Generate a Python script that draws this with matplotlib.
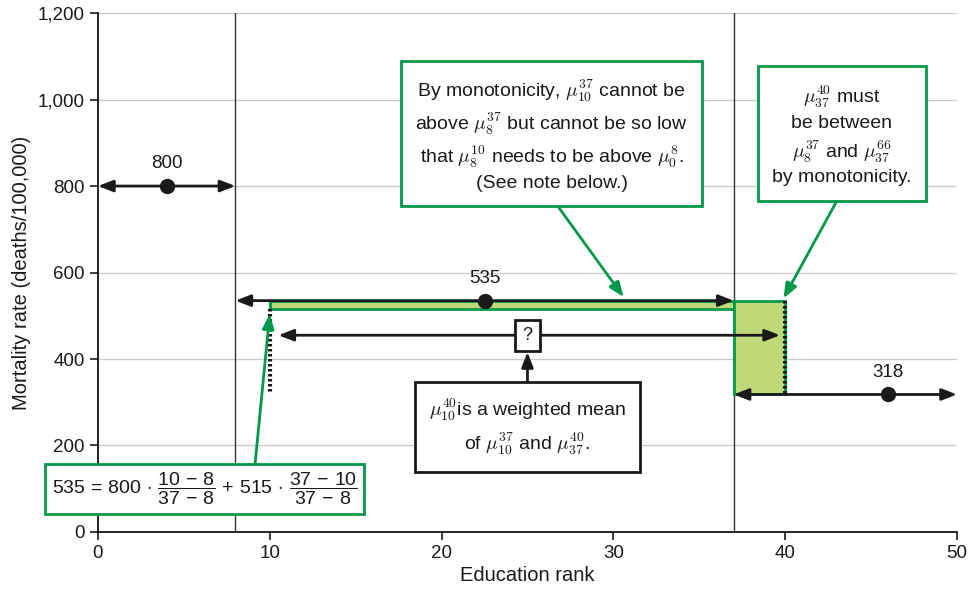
import matplotlib.pyplot as plt
from matplotlib.patches import Rectangle
from matplotlib.ticker import FuncFormatter

# Gruppen der Bildungsraenge und Sterberaten
grp_lo = [0, 8, 37]
grp_hi = [8, 37, 55]
rates = [800, 535, 318]
dot_x = [4, 22.5, 46]

# Schranken fuer die Teilintervalle
bound_lo_10_37 = 515
bound_lo_37_40 = 318
q_level = 455

green = '#00984a'
light = '#bfd978'
dark = '#1a1a1a'

plt.rcParams['font.family'] = ['Liberation Sans', 'DejaVu Sans']
plt.rcParams['mathtext.fontset'] = 'cm'
plt.rcParams['mathtext.rm'] = 'Liberation Sans'
plt.rcParams['mathtext.it'] = 'Liberation Sans:italic'
plt.rcParams['mathtext.sf'] = 'Liberation Sans'

fig = plt.figure(figsize=(9.75, 5.89), dpi=100)
ax = fig.add_axes([0.1005, 0.0968, 0.881, 0.881])
ax.set_xlim(0, 50)
ax.set_ylim(0, 1200)

# Gitter und Trennlinien
for y in range(200, 1201, 200):
    ax.axhline(y, color='#cccccc', lw=1, zorder=0)
for x in grp_lo[1:]:
    ax.axvline(x, color='#333333', lw=1, zorder=1)

for s in ['top', 'right']:
    ax.spines[s].set_visible(False)
ax.spines['left'].set_linewidth(1.2)
ax.spines['bottom'].set_linewidth(1.2)
ax.set_xticks(range(0, 51, 10))
ax.set_yticks(range(0, 1201, 200))
ax.yaxis.set_major_formatter(FuncFormatter(lambda v, p: f'{int(v):,}'))
ax.tick_params(direction='out', length=6, width=1.2, labelsize=13.5, colors=dark)

# Gruene Flaechen (Schranken)
ax.add_patch(Rectangle((10, bound_lo_10_37), grp_hi[1] - 10, rates[1] - bound_lo_10_37,
                       facecolor=light, edgecolor=green, lw=2, zorder=2))
ax.add_patch(Rectangle((37, bound_lo_37_40), 40 - 37, rates[1] - bound_lo_37_40,
                       facecolor=light, edgecolor=green, lw=2, zorder=2))

# Gepunktete Linien
ax.plot([10, 10], [bound_lo_10_37, bound_lo_37_40], color=dark, lw=3, ls=(0, (0.6, 0.6)), zorder=3)
ax.plot([40, 40], [rates[1], bound_lo_37_40], color=dark, lw=3, ls=(0, (0.6, 0.6)), zorder=3)

# Doppelpfeile mit Punkten
astyle = '<|-|>,head_length=0.9,head_width=0.35'
for lo, hi, r, dx in zip(grp_lo, grp_hi, rates, dot_x):
    ax.annotate('', xy=(min(hi, 50), r), xytext=(lo, r),
                arrowprops=dict(arrowstyle=astyle, color=dark, lw=2,
                                shrinkA=0, shrinkB=0), zorder=4)
    ax.plot(dx, r, 'o', color=dark, ms=10, zorder=5)
    ax.annotate(str(r), (dx, r), xytext=(0, 10), textcoords='offset points',
                ha='center', va='bottom', fontsize=13.5, color=dark)

# Fragezeichen-Pfeil
ax.annotate('', xy=(39.7, q_level), xytext=(10.5, q_level),
            arrowprops=dict(arrowstyle=astyle, color=dark, lw=2, shrinkA=0, shrinkB=0), zorder=4)
ax.text(25, q_level, '?', ha='center', va='center', fontsize=13, color=dark, zorder=6,
        bbox=dict(boxstyle='square,pad=0.4', fc='white', ec=dark, lw=2))

ax.text(25, 243, '$\\mu_{10}^{40}$is a weighted mean\nof $\\mu_{10}^{37}$ and $\\mu_{37}^{40}$.',
        ha='center', va='center', fontsize=14, color=dark, linespacing=1.4, zorder=6,
        bbox=dict(boxstyle='square,pad=0.75', fc='white', ec=dark, lw=2))
ax.annotate('', xy=(25, 416), xytext=(25, 335),
            arrowprops=dict(arrowstyle='-|>,head_length=0.9,head_width=0.35', color=dark, lw=2,
                            shrinkA=0, shrinkB=0), zorder=4)

# Gruene Erklaerungskaesten
txt_top = ('By monotonicity, $\\mu_{10}^{37}$ cannot be\n'
           'above $\\mu_{8}^{37}$ but cannot be so low\n'
           'that $\\mu_{8}^{10}$ needs to be above $\\mu_{0}^{8}$.\n'
           '(See note below.)')
ax.text(26.4, 918, txt_top, ha='center', va='center', fontsize=14, color=dark,
        linespacing=1.35, zorder=6,
        bbox=dict(boxstyle='square,pad=0.75', fc='white', ec=green, lw=2))
ax.annotate('', xy=(30.6, 543), xytext=(26.5, 768),
            arrowprops=dict(arrowstyle='-|>,head_length=0.9,head_width=0.35', color=green, lw=2,
                            shrinkA=0, shrinkB=0), zorder=4)

txt_right = ('$\\mu_{37}^{40}$ must\nbe between\n'
             '$\\mu_{8}^{37}$ and $\\mu_{37}^{66}$\nby monotonicity.')
ax.text(43.3, 918, txt_right, ha='center', va='center', fontsize=14, color=dark,
        linespacing=1.35, zorder=6,
        bbox=dict(boxstyle='square,pad=0.75', fc='white', ec=green, lw=2))
ax.annotate('', xy=(39.9, 540), xytext=(43.0, 765),
            arrowprops=dict(arrowstyle='-|>,head_length=0.9,head_width=0.35', color=green, lw=2,
                            shrinkA=0, shrinkB=0), zorder=4)

formula = ('$535\\,=\\,800\\,\\cdot\\,\\dfrac{10\\,-\\,8}{37\\,-\\,8}'
           '\\,+\\,515\\,\\cdot\\,\\dfrac{37\\,-\\,10}{37\\,-\\,8}$')
ax.text(6.2, 99, formula, ha='center', va='center', fontsize=14, color=dark, zorder=6,
        math_fontfamily='custom',
        bbox=dict(boxstyle='square,pad=0.35', fc='white', ec=green, lw=2))
ax.annotate('', xy=(10, 505), xytext=(9.1, 140),
            arrowprops=dict(arrowstyle='-|>,head_length=0.9,head_width=0.35', color=green, lw=2,
                            shrinkA=0, shrinkB=0), zorder=4)

ax.set_xlabel('Education rank', fontsize=14.5, color=dark, labelpad=3)
ax.set_ylabel('Mortality rate (deaths/100,000)', fontsize=14.5, color=dark, labelpad=5)

fig.savefig('out.png', dpi=100)
